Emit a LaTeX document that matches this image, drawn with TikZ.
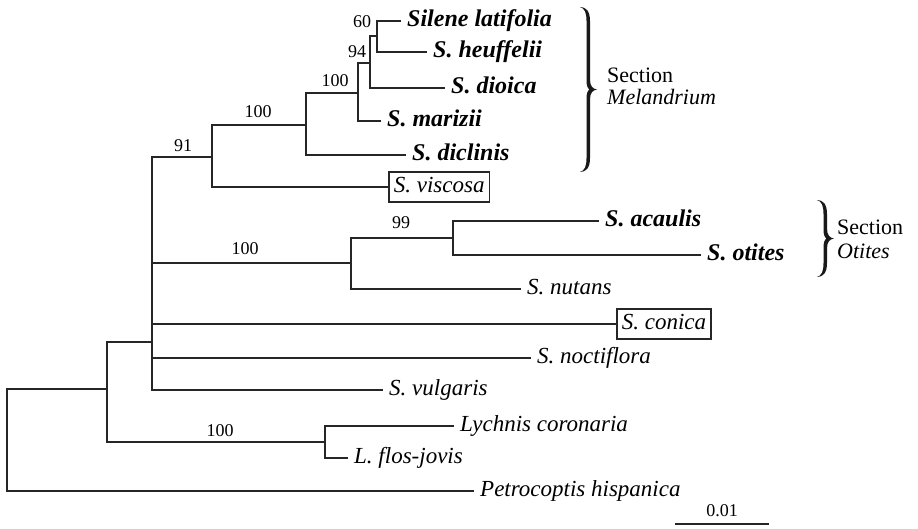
\documentclass[tikz,border=0pt]{standalone}
\usepackage{fontspec}
\setmainfont{Liberation Serif}
\newcommand{\drawSectBrace}[3]{%
 \fill[black!90, shift={(#1,#2)}] (0,0) .. controls (6,0) and (10,4) .. (10,14)
  -- (10,{#3-10}) .. controls (10,{#3-3}) and (13,{#3-0.6}) .. (17,#3)
  .. controls (13,{#3+0.6}) and (10,{#3+3}) .. (10,{#3+10})
  -- (10,{2*#3-14}) .. controls (10,{2*#3-4}) and (6,{2*#3}) .. (0,{2*#3})
  .. controls (4.5,{2*#3-1.5}) and (6.5,{2*#3-5}) .. (6.5,{2*#3-14})
  -- (6.5,{#3+8}) .. controls (6.5,{#3+3}) and (8.5,{#3+0.5}) .. (9.5,#3)
  .. controls (8.5,{#3-0.5}) and (6.5,{#3-3}) .. (6.5,{#3-8})
  -- (6.5,14) .. controls (6.5,5) and (4.5,1.5) .. (0,0) -- cycle;}
\begin{document}
\begin{tikzpicture}[x=1pt,y=-1pt,
  branch/.style={draw=black!85, line width=1.9pt, line cap=rect},
  taxon/.style={anchor=west, inner xsep=7pt, inner ysep=0pt, text height=16pt, text depth=5pt,
    font=\fontsize{23}{26}\selectfont\itshape},
  taxonb/.style={taxon, font=\fontsize{24}{27}\selectfont\bfseries\itshape},
  boxed/.style={taxon, draw=black!85, line width=1.6pt, inner xsep=5pt, inner ysep=4.5pt},
  boot/.style={inner sep=0pt, font=\fontsize{18}{20}\selectfont},
  sect/.style={anchor=west, inner sep=0pt, font=\fontsize{22}{24}\selectfont},
  secti/.style={sect, font=\fontsize{22}{24}\selectfont\itshape}]
\useasboundingbox (0,0) rectangle (918,528);
% internal nodes
\coordinate (root) at (7,389);
\coordinate (nin) at (107,389);
\coordinate (nsil) at (152,342);
\coordinate (nly) at (325,442);
\coordinate (n91) at (212,157);
\coordinate (n100b) at (306,125);
\coordinate (n100a) at (358,93);
\coordinate (n94) at (370,63);
\coordinate (n60) at (377,36);
\coordinate (n100c) at (351,263);
\coordinate (n99) at (453,238);
% leaves
\node[taxonb] (lat) at (400,21) {Silene latifolia};
\node[taxonb] (heu) at (426,52) {S. heuffelii};
\node[taxonb] (dio) at (444,88) {S. dioica};
\node[taxonb] (mar) at (380,121) {S. marizii};
\node[taxonb] (dic) at (405,155) {S. diclinis};
\node[boxed] (vis) at (388,187) {S. viscosa};
\node[taxonb] (aca) at (598,221) {S. acaulis};
\node[taxonb] (oti) at (700,255) {S. otites};
\node[taxon] (nut) at (520,289) {S. nutans};
\node[boxed] (con) at (616,324) {S. conica};
\node[taxon] (noc) at (530,358) {S. noctiflora};
\node[taxon] (vul) at (382,390) {S. vulgaris};
\node[taxon] (lco) at (453,426) {Lychnis coronaria};
\node[taxon] (lfj) at (347,458) {L. flos-jovis};
\node[taxon] (pet) at (473,491) {Petrocoptis hispanica};
% branches
\draw[branch] (root) |- (nin);
\draw[branch] (root) |- (pet.west);
\draw[branch] (nin) |- (nsil);
\draw[branch] (nin) |- (nly);
\draw[branch] (nly) |- (lco.west);
\draw[branch] (nly) |- (lfj.west);
\draw[branch] (nsil) |- (n91);
\draw[branch] (nsil) |- (n100c);
\draw[branch] (nsil) |- (con.west);
\draw[branch] (nsil) |- (noc.west);
\draw[branch] (nsil) |- (vul.west);
\draw[branch] (n91) |- (n100b);
\draw[branch] (n91) |- (vis.west);
\draw[branch] (n100b) |- (n100a);
\draw[branch] (n100b) |- (dic.west);
\draw[branch] (n100a) |- (n94);
\draw[branch] (n100a) |- (mar.west);
\draw[branch] (n94) |- (n60);
\draw[branch] (n94) |- (dio.west);
\draw[branch] (n60) |- (lat.west);
\draw[branch] (n60) |- (heu.west);
\draw[branch] (n100c) |- (n99);
\draw[branch] (n100c) |- (nut.west);
\draw[branch] (n99) |- (aca.west);
\draw[branch] (n99) |- (oti.west);
% bootstrap values
\node[boot] (b60) at (362,22) {60};
\node[boot] (b94) at (357,52) {94};
\node[boot] (b100a) at (335,81) {100};
\node[boot] (b100b) at (258,112) {100};
\node[boot] (b91) at (183,146) {91};
\node[boot] (b100c) at (245,249) {100};
\node[boot] (b99) at (401,223) {99};
\node[boot] (b100d) at (220,431) {100};
% braces and sections
\drawSectBrace{580}{7}{82.5}
\drawSectBrace{817}{200}{38.5}
\node[sect] (s1) at (607,75) {Section};
\node[secti] (s1b) at (607,97) {Melandrium};
\node[sect] (s2) at (837,227) {Section};
\node[secti] (s2b) at (837,251) {Otites};
% scale bar
\coordinate (sb1) at (676,524);
\coordinate (sb2) at (768,524);
\draw[branch] (sb1) -- (sb2);
\node[boot] (sbl) at (722,511) {0.01};
\end{tikzpicture}
\end{document}
